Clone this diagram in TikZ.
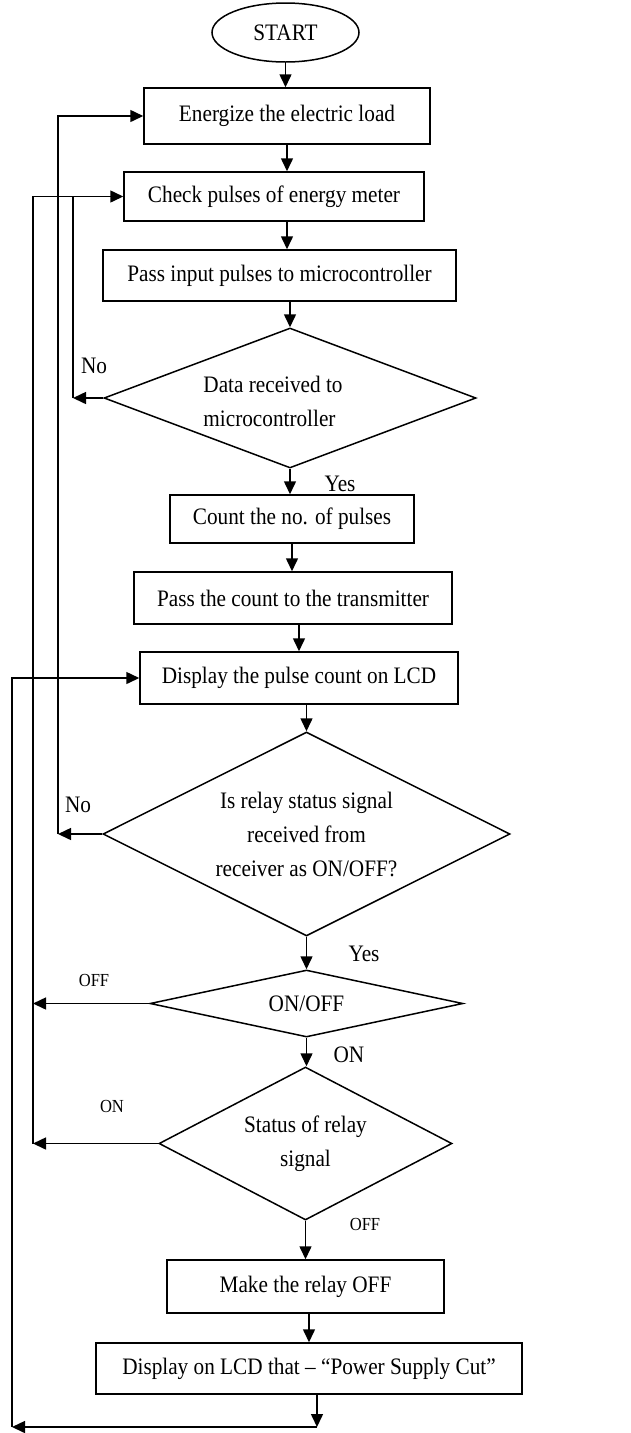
\documentclass[tikz,border=0pt]{standalone}
\usepackage{fontspec}
\setmainfont{Liberation Serif}[FakeStretch=0.9]
\usetikzlibrary{shapes.geometric,arrows.meta}
\begin{document}
\begin{tikzpicture}[x=1pt,y=-1pt,
  every node/.style={font=\fontsize{23.6}{34}\selectfont},
  box/.style={draw,line width=1.5pt,inner sep=0pt},
  dia/.style={draw,diamond,line width=1.5pt,inner sep=0pt},
  conn/.style={line width=1.5pt},
  flow/.style={line width=1.5pt,-{Triangle[length=13pt,width=12pt]}},
  lab/.style={inner sep=0pt},
  small/.style={inner sep=0pt,font=\fontsize{18.4}{20}\selectfont}]
\useasboundingbox (0,0) rectangle (631,1433);

% nodes
\node[draw,ellipse,line width=1.5pt,minimum width=147pt,minimum height=59pt,inner sep=0pt] (start) at (285.5,32.5) {START};
\node[box,minimum width=286pt,minimum height=56pt] (energ) at (287,116) {Energize the electric load};
\node[box,minimum width=300pt,minimum height=49pt] (check) at (274,196.5) {Check pulses of energy meter};
\node[box,minimum width=353pt,minimum height=51pt] (pin) at (279.5,275.5) {Pass input pulses to microcontroller};
\node[dia,aspect=2.66,minimum width=372pt,minimum height=140pt] (data) at (290,398) {};
\node[align=left,inner sep=0pt] (datat) at (273,401) {Data received to\\microcontroller};
\node[box,minimum width=244pt,minimum height=48pt] (count) at (292,519) {Count the no. of pulses};
\node[box,minimum width=318pt,minimum height=52pt] (pcount) at (293,598) {Pass the count to the transmitter};
\node[box,minimum width=318pt,minimum height=52pt] (disp) at (299,678) {Display the pulse count on LCD};
\node[dia,aspect=2,minimum width=407pt,minimum height=204pt,align=center] (d2) at (306.5,834) {Is relay status signal\\received from\\receiver as ON/OFF?};
\node[dia,aspect=4.67,minimum width=313pt,minimum height=67pt] (onoff) at (306.5,1003.5) {ON/OFF};
\node[dia,aspect=1.915,minimum width=293pt,minimum height=153pt,align=center] (d3) at (305.5,1143.5) {Status of relay\\signal};
\node[box,minimum width=277pt,minimum height=53pt] (make) at (305.5,1286.5) {Make the relay OFF};
\node[box,minimum width=426pt,minimum height=51pt] (last) at (309,1368.5) {Display on LCD that -- ``Power Supply Cut''};

% labels
\node[lab] (no1) at (94,366) {No};
\node[lab] (yes1) at (340,484) {Yes};
\node[lab] (no2) at (78,805) {No};
\node[lab] (yes2) at (364,954) {Yes};
\node[small] (off1) at (94,980) {OFF};
\node[lab] (on1) at (349,1055) {ON};
\node[small] (on2) at (112,1106) {ON};
\node[small] (off2) at (365,1224) {OFF};

% helper coordinates for return lines
\coordinate (xA) at (73,0);
\coordinate (xB) at (33,0);
\coordinate (xC) at (58,0);
\coordinate (botR) at (317,1427);
\coordinate (botL) at (12,1427);

% main flow
\draw[flow] (start.south) -- (start.south |- energ.north);
\draw[flow] (energ.south) -- (energ.south |- check.north);
\draw[flow] (energ.south |- check.south) -- (energ.south |- pin.north);
\draw[flow] (data.north |- pin.south) -- (data.north);
\draw[flow] (data.south) -- (data.south |- count.north);
\draw[flow] (count.south) -- (count.south |- pcount.north);
\draw[flow] (disp.north |- pcount.south) -- (disp.north);
\draw[flow] (d2.north |- disp.south) -- (d2.north);
\draw[flow] (d2.south) -- (onoff.north);
\draw[flow] (onoff.south) -- (onoff.south |- d3.north);
\draw[flow] (d3.south) -- (d3.south |- make.north);
\draw[flow] (last.north |- make.south) -- (last.north);
\draw[flow] (last.south -| botR) -- (botR);

% return lines
\draw[flow] (data.west) -- (data.west -| xA);
\draw[conn] (data.west -| xA) -- (xA |- check.west);
\draw[flow] (d2.west) -- (d2.west -| xC);
\draw[flow] (d2.west -| xC) |- (energ.west);
\draw[flow] (onoff.west) -- (onoff.west -| xB);
\draw[flow] (d3.west) -- (d3.west -| xB);
\draw[flow] (d3.west -| xB) |- (check.west);
\draw[flow] (botR) -- (botL);
\draw[flow] (botL) |- (disp.west);
\end{tikzpicture}
\end{document}
